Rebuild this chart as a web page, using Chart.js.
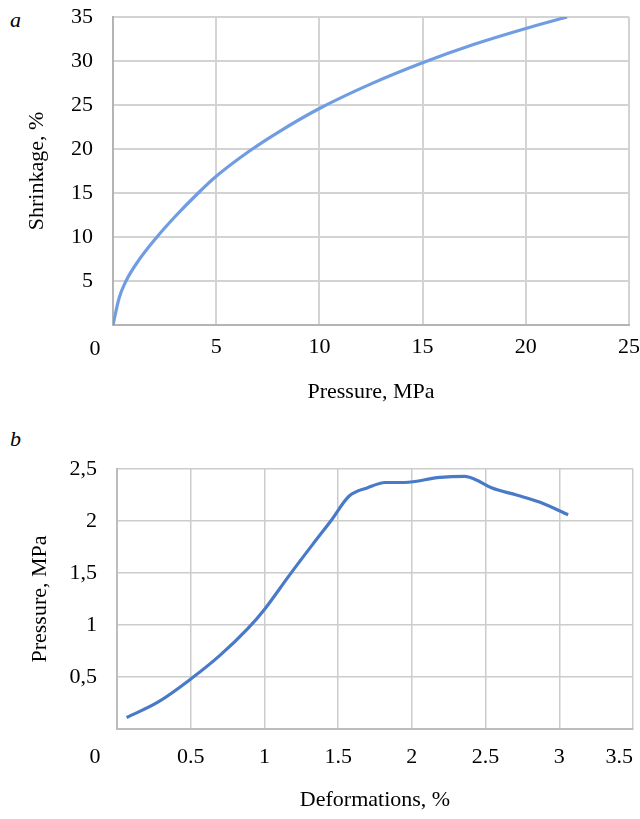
<!DOCTYPE html>
<html>
<head>
<meta charset="utf-8">
<script src="https://cdn.jsdelivr.net/npm/chart.js"></script>
<style>
  body { margin: 0; background: #fff; width: 640px; height: 819px; position: relative; overflow: hidden; }
  .tag { position: absolute; font-family: "Liberation Serif", serif; font-style: italic; font-size: 22px; color: #000; line-height: 1; }
  canvas { position: absolute; left: 0; }
</style>
</head>
<body>
<div class="tag" style="left:10px; top:9px;">a</div>
<div class="tag" style="left:10px; top:428px;">b</div>
<canvas id="chartA" width="640" height="410" style="top:0;"></canvas>
<canvas id="chartB" width="640" height="399" style="top:420px;"></canvas>
<script>
// chart a: shrinkage vs pressure
const pressureA = [0, 0.3, 0.63, 1.2, 2.13, 3, 4.13, 5, 6.63, 8, 10, 12.5, 15, 17.5, 20, 22];
const shrinkage = [0, 3.1, 5, 7.2, 10, 12.3, 15, 16.9, 19.8, 21.9, 24.6, 27.4, 29.8, 31.9, 33.7, 35];

// chart b: pressure vs deformation
const deformation = [0.065, 0.28, 0.5, 0.7, 0.89, 1.0, 1.17, 1.33, 1.45, 1.575, 1.7, 1.82, 1.95, 2.19, 2.36, 2.43, 2.54, 2.71, 2.87, 3.06];
const pressureB = [0.11, 0.26, 0.48, 0.71, 0.97, 1.15, 1.48, 1.78, 2.0, 2.24, 2.32, 2.37, 2.37, 2.42, 2.43, 2.40, 2.32, 2.25, 2.18, 2.06];

const FONT = { family: "'Liberation Serif', 'Times New Roman', serif", size: 22 };

// draws the shared "0" at the origin, shifted left like the original
function originZero(dx, dy) {
    return {
        id: 'originZero',
        afterDraw(chart) {
            const ctx = chart.ctx;
            const x = chart.scales.x;
            ctx.save();
            ctx.font = FONT.size + 'px ' + FONT.family;
            ctx.fillStyle = '#000';
            ctx.textAlign = 'center';
            ctx.textBaseline = 'middle';
            ctx.fillText('0', x.getPixelForValue(0) - dx, x.top + dy);
            ctx.restore();
        }
    };
}

function makeChart(id, cfg) {
    const points = cfg.xs.map((v, i) => ({ x: v, y: cfg.ys[i] }));
    return new Chart(document.getElementById(id), {
        type: 'line',
        data: {
            datasets: [{
                data: points,
                borderColor: cfg.color,
                borderWidth: 3.2,
                pointRadius: 0,
                fill: false,
                cubicInterpolationMode: 'monotone'
            }]
        },
        options: {
            responsive: false,
            animation: false,
            layout: { padding: cfg.padding },
            plugins: { legend: { display: false }, tooltip: { enabled: false } },
            scales: {
                x: {
                    type: 'linear',
                    min: 0, max: cfg.xMax,
                    grid: { color: cfg.grid, lineWidth: cfg.gridWidth, drawTicks: false },
                    border: { color: cfg.border, width: 2 },
                    ticks: {
                        stepSize: cfg.xStep, autoSkip: false, color: '#000', font: FONT,
                        padding: cfg.xTickPad, align: cfg.xAlign, maxRotation: 0,
                        callback: v => v === 0 ? '' : cfg.xFmt(v)
                    },
                    title: { display: true, text: cfg.xTitle, color: '#000', font: FONT, padding: { top: 0, bottom: cfg.xTitlePad } },
                    afterFit(s) { s.height = cfg.xHeight; s.paddingLeft = 0; s.paddingRight = 0; }
                },
                y: {
                    min: 0, max: cfg.yMax,
                    grid: { color: cfg.grid, lineWidth: cfg.gridWidth, drawTicks: false },
                    border: { color: cfg.border, width: 2 },
                    ticks: {
                        stepSize: cfg.yStep, autoSkip: false, color: '#000', font: FONT,
                        padding: 20,
                        callback: v => v === 0 ? '' : cfg.yFmt(v)
                    },
                    title: { display: true, text: cfg.yTitle, color: '#000', font: FONT, padding: { top: cfg.yTitlePad, bottom: 0 } },
                    afterFit(s) { s.width = cfg.yWidth; s.paddingTop = 0; s.paddingBottom = 0; }
                }
            }
        },
        plugins: [originZero(cfg.zeroDx, cfg.zeroDy)]
    });
}

makeChart('chartA', {
    xs: pressureA, ys: shrinkage,
    color: 'rgb(112,157,226)',
    xMax: 25, xStep: 5, yMax: 35, yStep: 5,
    xFmt: v => String(v), yFmt: v => String(v),
    xTitle: 'Pressure, MPa', yTitle: 'Shrinkage, %',
    grid: '#d3d3d3', gridWidth: 2, border: '#b4b4b4',
    padding: { left: 0, right: 11, top: 17, bottom: 0 },
    xHeight: 85, yWidth: 113, xTickPad: 9, xTitlePad: 5, yTitlePad: 24,
    xAlign: 'center', zeroDx: 18, zeroDy: 24
});

makeChart('chartB', {
    xs: deformation, ys: pressureB,
    color: 'rgb(72,122,200)',
    xMax: 3.5, xStep: 0.5, yMax: 2.5, yStep: 0.5,
    xFmt: v => String(v), yFmt: v => String(v).replace('.', ','),
    xTitle: 'Deformations, %', yTitle: 'Pressure, MPa',
    grid: '#cccccc', gridWidth: 1.5, border: '#bdbdbd',
    padding: { left: 0, right: 7, top: 49, bottom: 0 },
    xHeight: 90, yWidth: 117, xTickPad: 15, xTitlePad: 6, yTitlePad: 27,
    xAlign: 'inner', zeroDx: 22, zeroDy: 28
});
</script>
</body>
</html>
